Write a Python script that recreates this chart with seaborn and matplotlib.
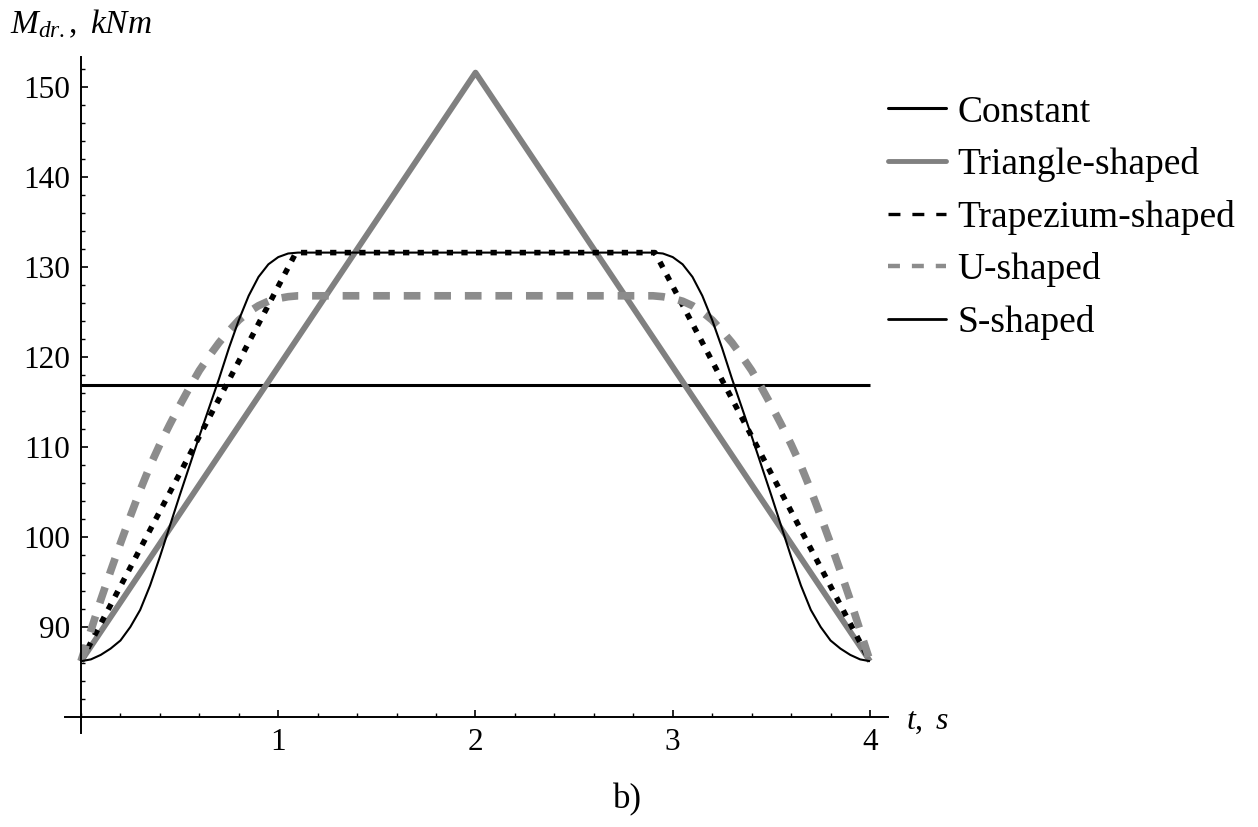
import matplotlib
matplotlib.use("Agg")
import matplotlib.pyplot as plt
from matplotlib.lines import Line2D
from matplotlib.ticker import MultipleLocator, FixedLocator
import seaborn as sns
import pandas as pd

# ---------------- data ----------------
# constant torque
t_const = [0.0, 4.0]
m_const = [116.9, 116.9]

# triangle-shaped torque
t_tri = [0.0, 2.0, 4.0]
m_tri = [86.2, 151.6, 86.2]

# trapezium-shaped torque
t_trap = [0.0, 1.09, 2.91, 4.0]
m_trap = [86.2, 131.6, 131.6, 86.2]

# sampling instants for the smooth U- and S-shaped curves
t_curve = [0.00, 0.05, 0.10, 0.15, 0.20, 0.25, 0.30, 0.35, 0.40, 0.45, 0.50,
           0.55, 0.60, 0.65, 0.70, 0.75, 0.80, 0.85, 0.90, 0.95, 1.00, 1.05, 1.10,
           2.90, 2.95, 3.00, 3.05, 3.10, 3.15, 3.20, 3.25, 3.30, 3.35, 3.40, 3.45,
           3.50, 3.55, 3.60, 3.65, 3.70, 3.75, 3.80, 3.85, 3.90, 3.95, 4.00]

# U-shaped torque
m_u = [86.2, 89.6, 93.0, 96.2, 99.3, 102.3, 105.2, 107.9, 110.3, 112.5, 114.6,
       116.6, 118.5, 120.1, 121.6, 122.9, 124.1, 125.0, 125.7, 126.2, 126.5, 126.7, 126.8,
       126.8, 126.7, 126.5, 126.2, 125.7, 125.0, 124.1, 122.9, 121.6, 120.1, 118.5, 116.6,
       114.6, 112.5, 110.3, 107.9, 105.2, 102.3, 99.3, 96.2, 93.0, 89.6, 86.2]

# S-shaped torque
m_s = [86.2, 86.4, 86.9, 87.6, 88.5, 90.0, 91.9, 94.6, 97.8, 101.2, 104.6,
       107.9, 111.2, 114.4, 117.6, 121.0, 124.1, 126.8, 128.9, 130.3, 131.1, 131.5, 131.6,
       131.6, 131.5, 131.1, 130.3, 128.9, 126.8, 124.1, 121.0, 117.6, 114.4, 111.2, 107.9,
       104.6, 101.2, 97.8, 94.6, 91.9, 90.0, 88.5, 87.6, 86.9, 86.4, 86.2]

labels = ["Constant", "Triangle-shaped", "Trapezium-shaped", "U-shaped", "S-shaped"]
y_ticks = [90, 100, 110, 120, 130, 140, 150]
x_ticks = [1, 2, 3, 4]

# ---------------- style ----------------
sns.set_style("ticks")
plt.rcParams["font.family"] = ["Liberation Serif", "DejaVu Serif"]
plt.rcParams["mathtext.fontset"] = "custom"
plt.rcParams["mathtext.rm"] = "Liberation Serif"
plt.rcParams["mathtext.it"] = "Liberation Serif:italic"
plt.rcParams["lines.scale_dashes"] = False
for key in ("text.color", "axes.labelcolor", "xtick.color", "ytick.color",
            "xtick.labelcolor", "ytick.labelcolor"):
    plt.rcParams[key] = "black"

GRAY = "#808080"
GRAY_U = "#8c8c8c"

fig = plt.figure(figsize=(12.58, 8.27), dpi=100)
ax = fig.add_axes([65 / 1258, 94 / 827, 823 / 1258, 676 / 827])

series = [
    (t_const, m_const, dict(color="black", lw=2.2, linestyle="-")),
    (t_tri, m_tri, dict(color=GRAY, lw=4.2, linestyle="-")),
    (t_trap, m_trap, dict(color="black", lw=4.0, linestyle=(0, (4.5, 6.0)))),
    (t_curve, m_u, dict(color=GRAY_U, lw=5.5, linestyle=(0, (12.0, 10.0)))),
    (t_curve, m_s, dict(color="black", lw=1.5, linestyle="-")),
]

for (tx, my, kw), name in zip(series, labels):
    df = pd.DataFrame({"t": tx, "M": my})
    sns.lineplot(data=df, x="t", y="M", ax=ax, estimator=None, sort=False,
                 legend=False, clip_on=False, solid_capstyle="butt",
                 dash_capstyle="butt", **kw)

# ---------------- axes ----------------
ax.set_xlim(-16 / 197.25, 4 + 18 / 197.25)
ax.set_ylim(80 - 16 / 9.0, 80 + 660 / 9.0)
for side in ("top", "right"):
    ax.spines[side].set_visible(False)
ax.spines["left"].set_position(("data", 0))
ax.spines["bottom"].set_position(("data", 80))
for side in ("left", "bottom"):
    ax.spines[side].set_linewidth(1.4)
    ax.spines[side].set_color("black")

ax.xaxis.set_major_locator(FixedLocator(x_ticks))
ax.xaxis.set_minor_locator(MultipleLocator(0.2))
ax.yaxis.set_major_locator(FixedLocator(y_ticks))
ax.yaxis.set_minor_locator(FixedLocator([v for v in range(82, 153, 2) if v % 10 != 0]))
ax.set_xticklabels([str(v) for v in x_ticks])
ax.set_yticklabels([str(v) for v in y_ticks])
ax.tick_params(which="major", direction="in", length=5, width=1.2,
               labelsize=22.5, pad=8, colors="black", labelcolor="black")
ax.tick_params(which="minor", direction="in", length=3, width=1.0, colors="black")
ax.set_xlabel("")
ax.set_ylabel("")

fig.text(10 / 1258, 1 - 24 / 827, r"$M_{dr.},\ kNm$", fontsize=24,
         ha="left", va="center", color="black")
fig.text(906 / 1258, 1 - 721 / 827, r"$t,\ s$", fontsize=23,
         ha="left", va="center", color="black")
fig.text(627 / 1258, 1 - 800 / 827, "b)", fontsize=25, ha="center",
         va="center", color="black")

# ---------------- legend ----------------
handles = [
    Line2D([], [], color="black", lw=2.2),
    Line2D([], [], color=GRAY, lw=3.5),
    Line2D([], [], color="black", lw=2.4, linestyle=(0, (8.6, 8.6))),
    Line2D([], [], color=GRAY_U, lw=3.2, linestyle=(0, (8.6, 8.6))),
    Line2D([], [], color="black", lw=2.0),
]
leg = fig.legend(handles, labels, loc="upper left",
                 bbox_to_anchor=(888 / 1258, 1 - 95 / 827),
                 frameon=False, fontsize=27, handlelength=1.55, handletextpad=0.3,
                 labelspacing=0.47, borderpad=0, borderaxespad=0)
for txt in leg.get_texts():
    txt.set_color("black")

fig.savefig("out.png", dpi=100)
